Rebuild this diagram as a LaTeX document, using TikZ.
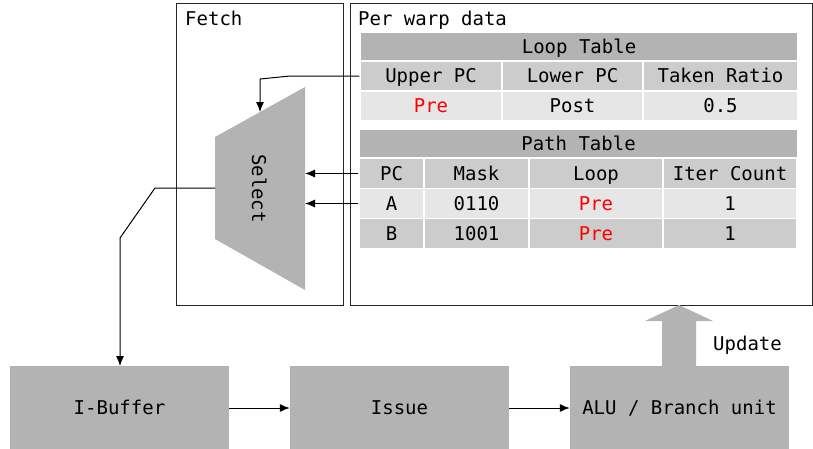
\documentclass[tikz,border=0pt]{standalone}
\usepackage{fontspec}
\setmainfont{DejaVu Sans Mono}
\usetikzlibrary{arrows.meta}
\definecolor{gA}{HTML}{B3B3B3}
\definecolor{gB}{HTML}{CCCCCC}
\definecolor{gC}{HTML}{E6E6E6}
\definecolor{redtxt}{HTML}{FF0000}
\tikzset{
  txt/.style={font=\fontsize{19}{22}\selectfont},
  cell/.style={txt, draw=white, line width=1.5pt, inner sep=0pt, text height=13.9pt, text depth=0pt, minimum height=#1},
  cell/.default=30pt,
  frame/.style={draw=black!85, line width=0.9pt},
  unit/.style={txt, fill=gA, draw=none, inner sep=0pt, text height=13.9pt, text depth=0pt, minimum width=219pt, minimum height=84pt},
  conn/.style={draw=black, line width=1pt, -{Latex[length=10pt,width=8pt]}},
}
\begin{document}
\begin{tikzpicture}[x=1pt,y=-1pt]
\useasboundingbox (0,0) rectangle (813,448);
\clip (0,0) rectangle (813,448);

% frames
\draw[frame] (176.8,3.5) rectangle (343.3,305);
\draw[frame] (350.8,3.5) rectangle (812.5,305);
\coordinate (warpS) at (679,305);
\node[txt, anchor=base west, inner sep=0pt] (fetchlbl) at (185,25) {Fetch};
\node[txt, anchor=base west, inner sep=0pt] (warplbl) at (358,25) {Per warp data};

% Loop table
\node[cell=29pt, fill=gA, minimum width=438pt] (lt) at (579,46.5) {Loop Table};
\node[cell, fill=gB, minimum width=142pt] (upc) at (431,76) {Upper PC};
\node[cell, fill=gB, minimum width=141pt] (lpc) at (572.5,76) {Lower PC};
\node[cell, fill=gB, minimum width=155pt] (tr) at (720.5,76) {Taken Ratio};
\node[cell, fill=gC, minimum width=142pt, text=redtxt] (upre) at (431,106) {Pre};
\node[cell, fill=gC, minimum width=141pt] (lpost) at (572.5,106) {Post};
\node[cell, fill=gC, minimum width=155pt] (trv) at (720.5,106) {0.5};

% Path table
\node[cell=29pt, fill=gA, minimum width=438pt] (pt) at (578.5,143.5) {Path Table};
\node[cell, fill=gB, minimum width=65pt] (pc) at (391.5,173.5) {PC};
\node[cell, fill=gB, minimum width=105pt] (mask) at (476.5,173.5) {Mask};
\node[cell, fill=gB, minimum width=134pt] (loop) at (596,173.5) {Loop};
\node[cell, fill=gB, minimum width=134pt] (iter) at (730,173.5) {Iter Count};
\node[cell, fill=gC, minimum width=65pt] (pa) at (391.5,203.5) {A};
\node[cell, fill=gC, minimum width=105pt] (ma) at (476.5,203.5) {0110};
\node[cell, fill=gC, minimum width=134pt, text=redtxt] (la) at (596,203.5) {Pre};
\node[cell, fill=gC, minimum width=134pt] (ia) at (730,203.5) {1};
\node[cell, fill=gB, minimum width=65pt] (pb) at (391.5,233.5) {B};
\node[cell, fill=gB, minimum width=105pt] (mb) at (476.5,233.5) {1001};
\node[cell, fill=gB, minimum width=134pt, text=redtxt] (lb) at (596,233.5) {Pre};
\node[cell, fill=gB, minimum width=134pt] (ib) at (730,233.5) {1};

% Select trapezoid
\fill[gA] (215,137) -- (305,87) -- (305,290) -- (215,239) -- cycle;
\coordinate (selW) at (215,188);
\coordinate (selTop) at (260,112);
\coordinate (selE1) at (305,173.5);
\coordinate (selE2) at (305,203.5);
\node[txt, rotate=-90, inner sep=0pt, text height=13.9pt, text depth=0pt] (sel) at (259,188.5) {Select};

% bottom units
\node[unit] (ibuf) at (119.5,408) {I-Buffer};
\node[unit] (issue) at (399.5,408) {Issue};
\node[unit] (alu) at (679.5,408) {ALU / Branch unit};
\coordinate (ibufIn) at (120,366);

% connectors
\draw[conn] (upc.west) -- (290,76) -- (260,79) -- (selTop);
\draw[conn] (pc.west) -- (selE1);
\draw[conn] (pa.west) -- (selE2);
\draw[conn] (selW) -- (155,188) -- (120,238) -- (ibufIn);
\draw[conn] (ibuf.east) -- (issue.west);
\draw[conn] (issue.east) -- (alu.west);

% update arrow
\fill[gA] (662,366) -- (662,321) -- (645,321) -- (warpS) -- (713,321) -- (696,321) -- (696,366) -- cycle;
\node[txt, anchor=base west, inner sep=0pt] (upd) at (713,350) {Update};
\end{tikzpicture}
\end{document}
